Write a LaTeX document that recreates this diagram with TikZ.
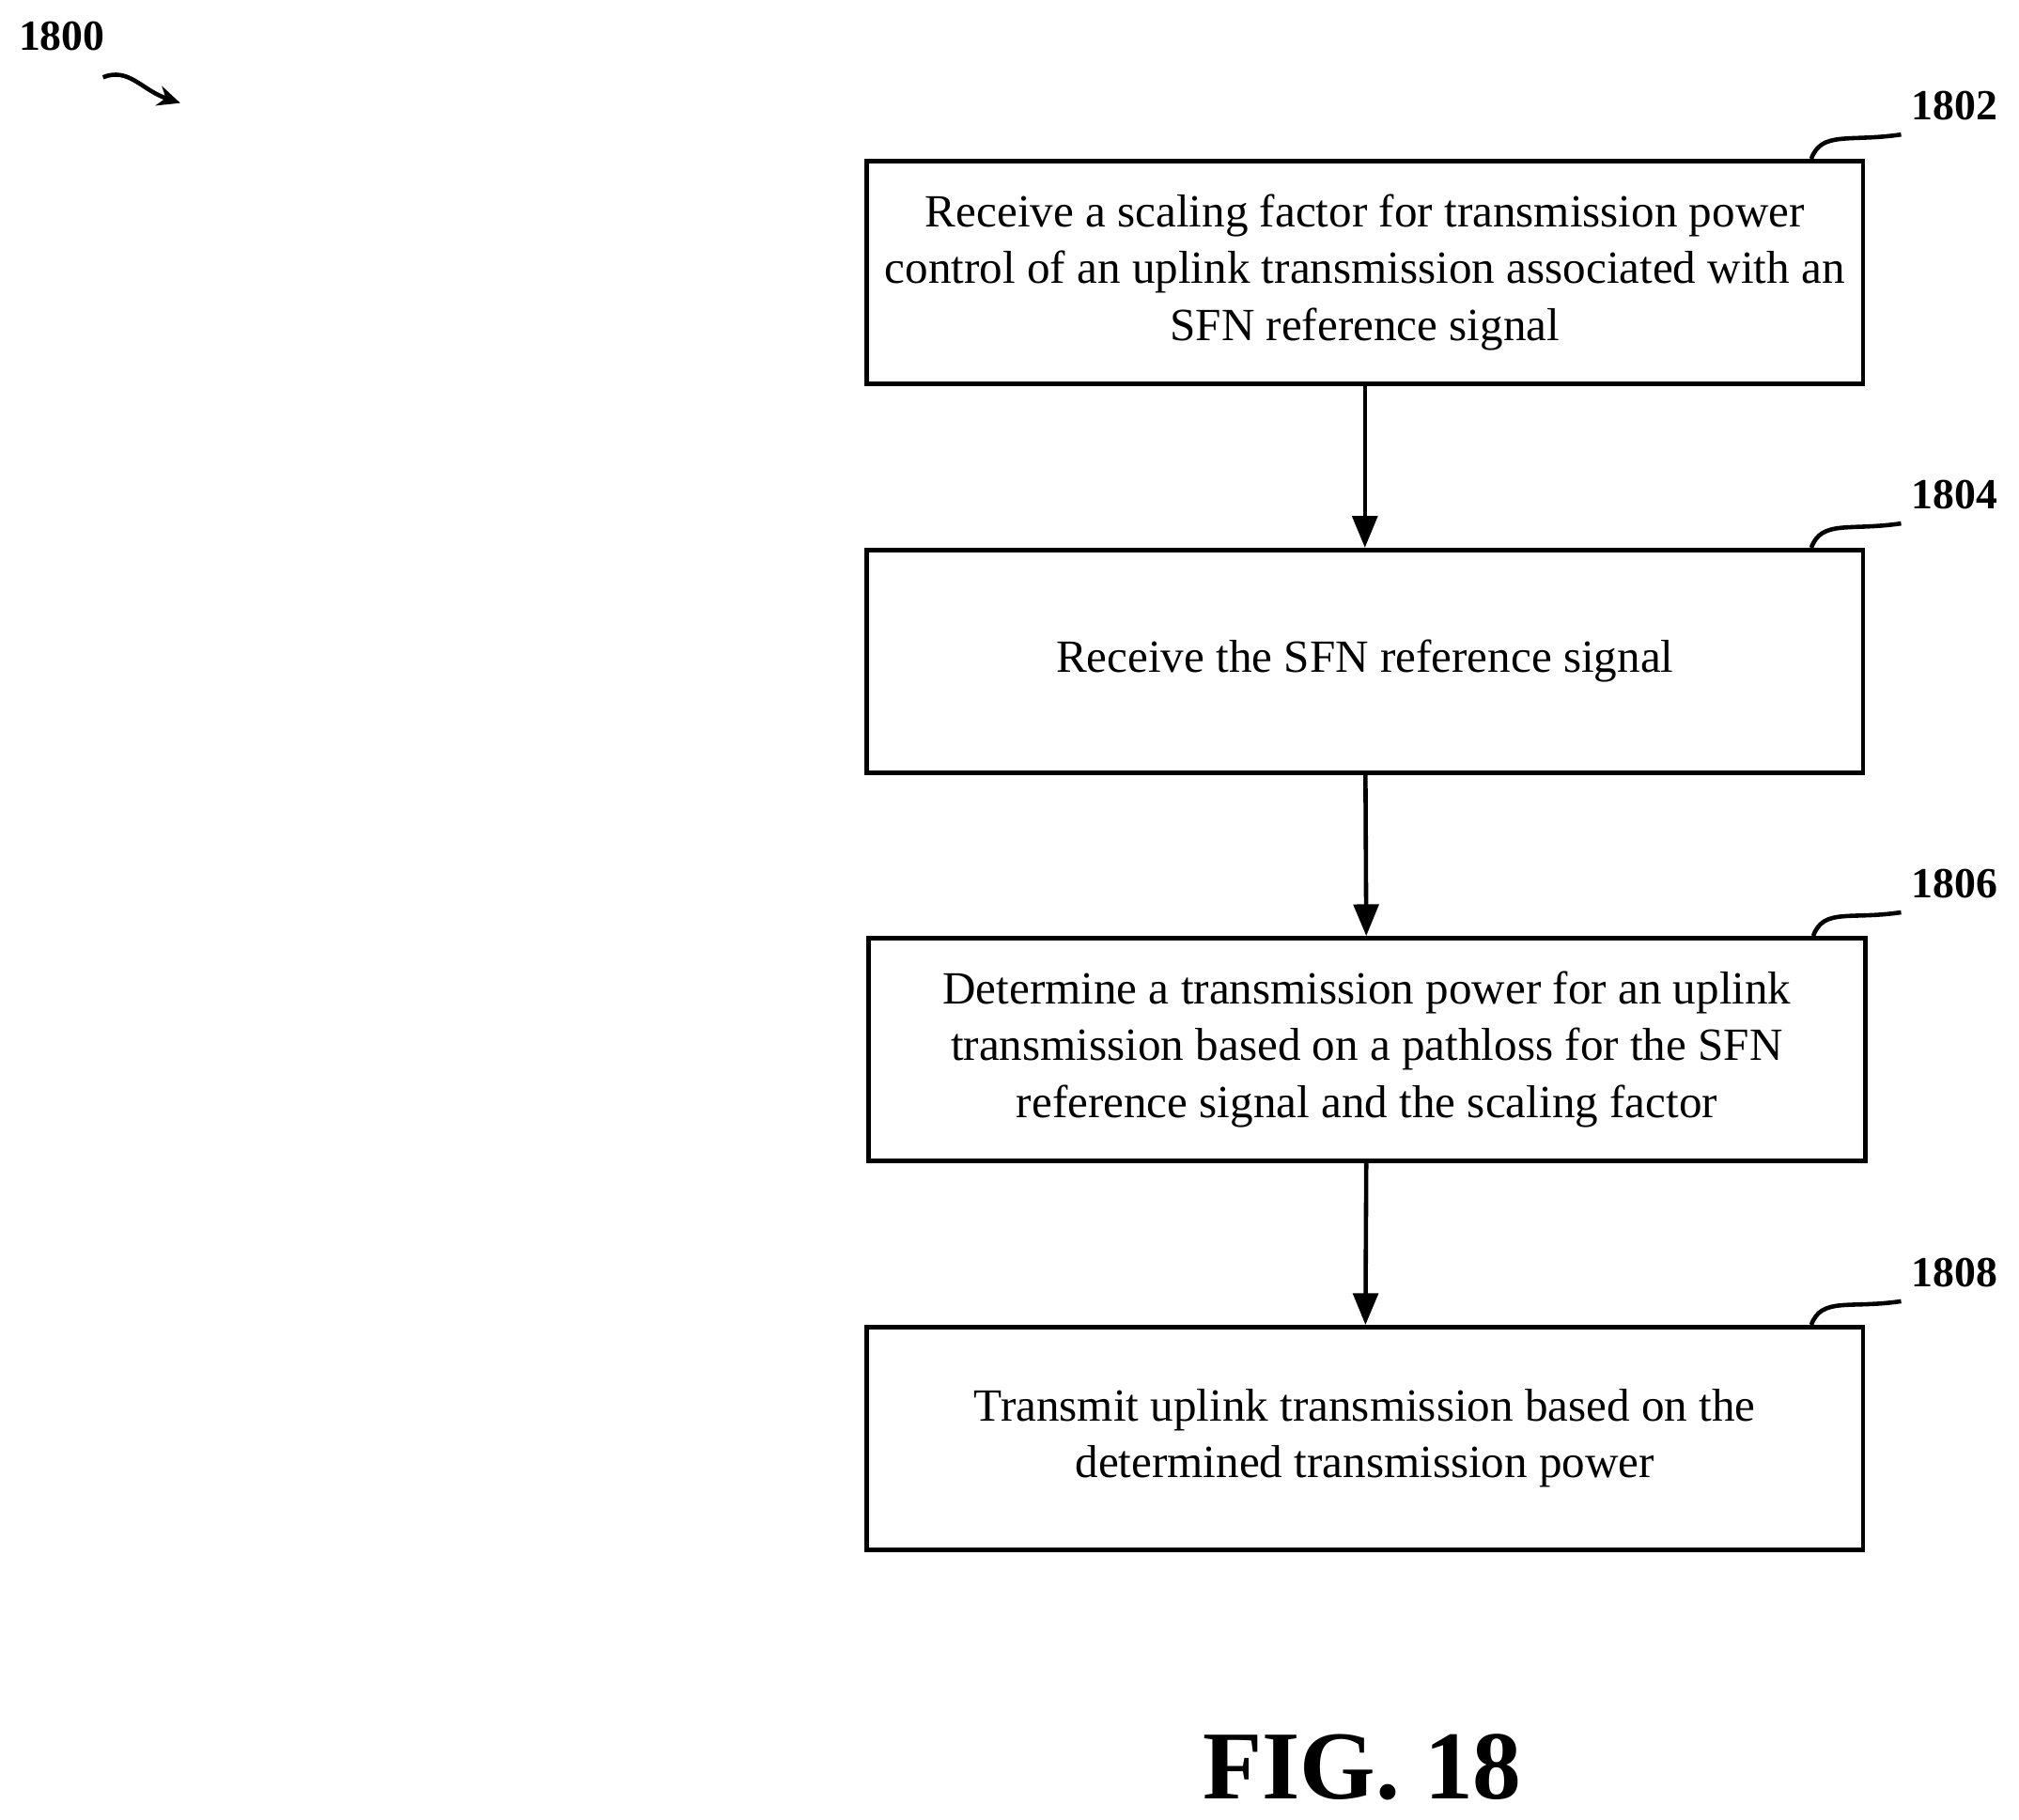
\documentclass[tikz,border=0pt]{standalone}
\usepackage{fontspec}
\setmainfont{Liberation Serif}
\usetikzlibrary{arrows.meta}
\begin{document}
\begin{tikzpicture}[x=0.02cm,y=-0.02cm,
  box/.style={draw,line width=1.9pt,minimum width=774*0.02cm,minimum height=173*0.02cm,align=center,font=\fontsize{20.4}{25}\selectfont,inner sep=0pt},
  lab/.style={font=\bfseries\fontsize{19}{22}\selectfont},
  arr/.style={line width=1.9pt,-{Triangle[length=14pt,width=11pt]}},
  sq/.style={line width=1.9pt}]
\useasboundingbox (0,0) rectangle (1568,1413);
\node[box] (b1) at (1060,211.5) {Receive a scaling factor for transmission power\\control of an uplink transmission associated with an\\SFN reference signal};
\node[box] (b2) at (1060,513.5) {Receive the SFN reference signal};
\node[box] (b3) at (1061.5,815) {Determine a transmission power for an uplink\\transmission based on a pathloss for the SFN\\reference signal and the scaling factor};
\node[box] (b4) at (1060,1117) {Transmit uplink transmission based on the\\determined transmission power};
\draw[arr] (b1) -- (b2);
\draw[arr] (b2) -- (b3);
\draw[arr] (b3) -- (b4);
\foreach \n/\t/\y in {l1/1802/82, l2/1804/384, l3/1806/686, l4/1808/988}{
  \node[lab] (\n) at (1518,\y) {\t};
}
\foreach \b/\l in {b1/l1,b2/l2,b3/l3,b4/l4}{
  \draw[sq] ([xshift=-42*0.02cm]\b.north east) .. controls +(8,-22) and +(-40,6) .. ([xshift=-0.04cm,yshift=-0.1cm]\l.south west);
}
\node[lab] (l0) at (48,28) {1800};
\coordinate (a0) at (140,80);
\draw[line width=1.9pt,-{Stealth[length=10pt,width=9pt]}] (80,60) .. controls (100,52) and (110,70) .. (a0);
\node[font=\bfseries\fontsize{43}{48}\selectfont] (fig) at (1058,1372) {FIG. 18};
\end{tikzpicture}
\end{document}
